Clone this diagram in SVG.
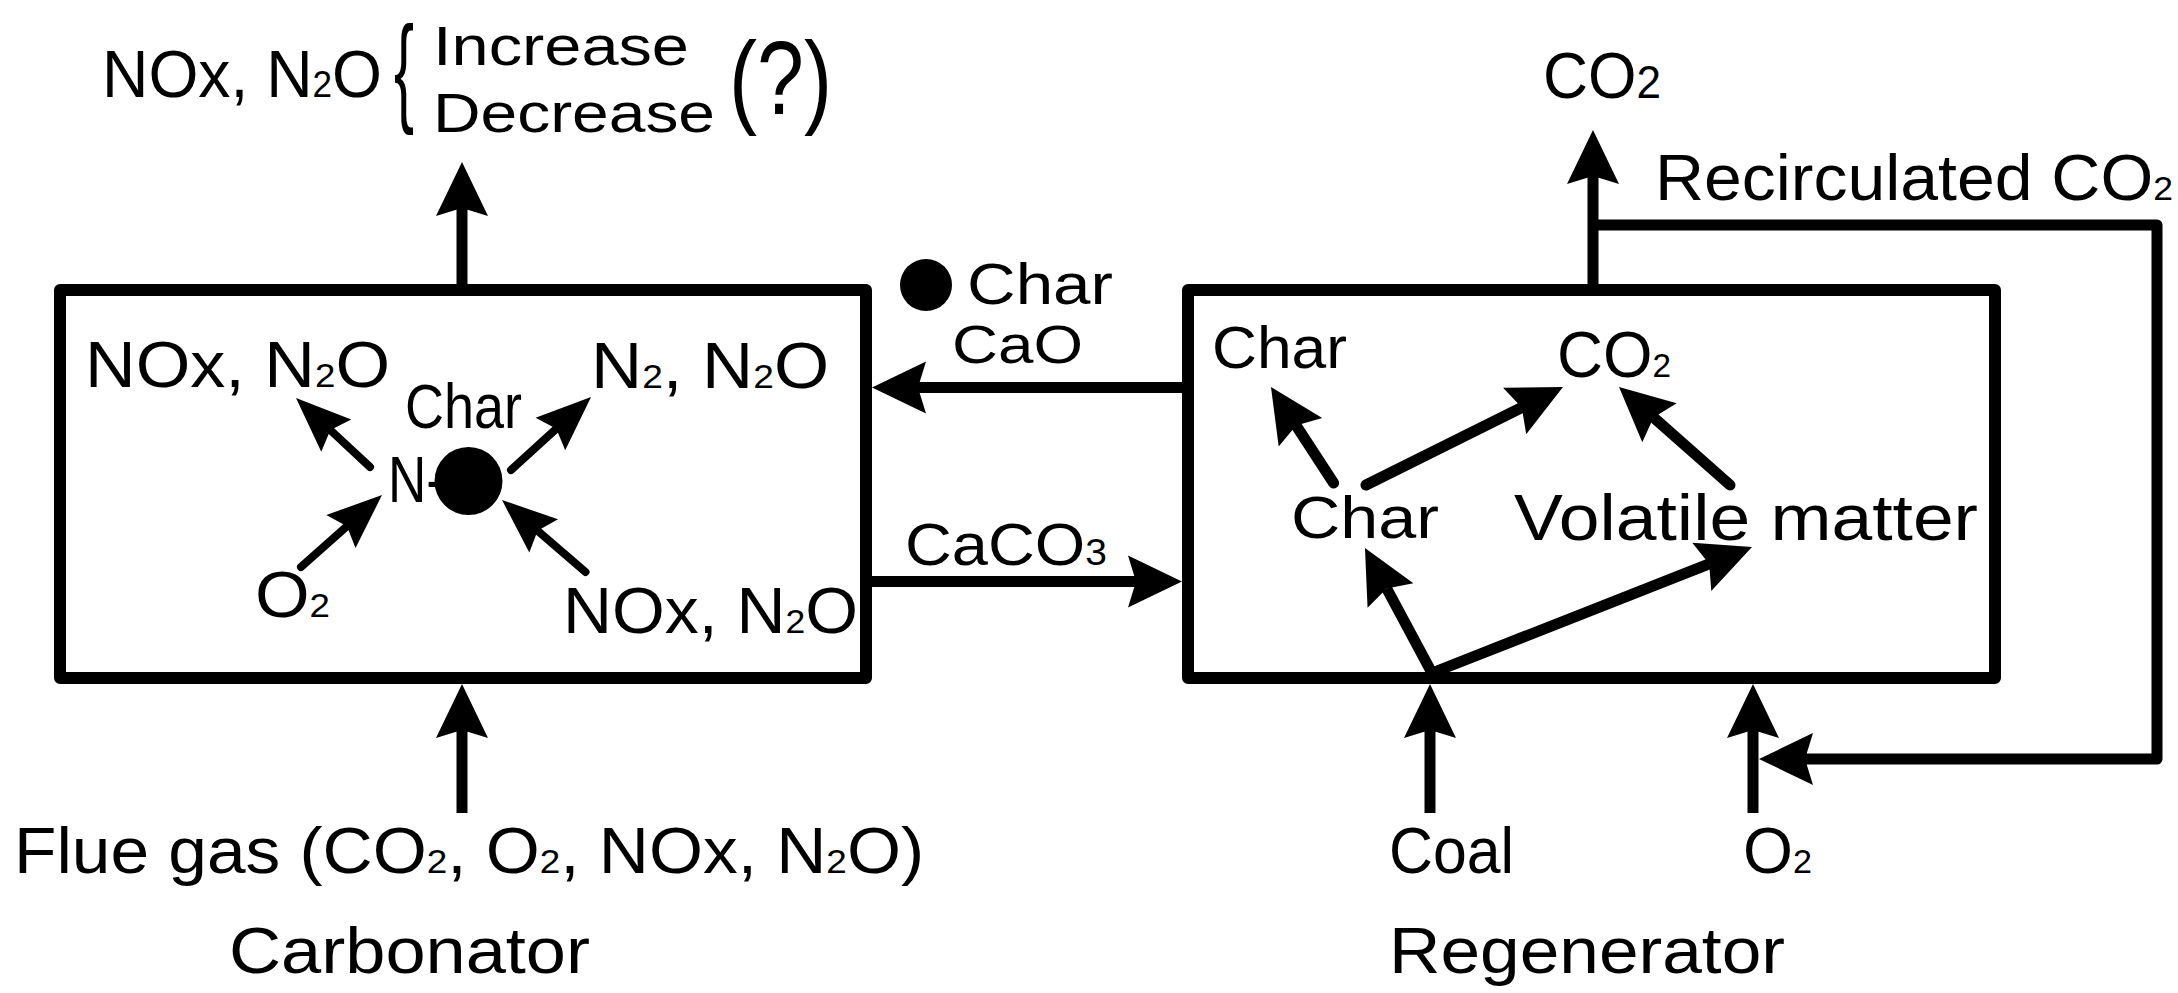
<svg xmlns="http://www.w3.org/2000/svg" width="2178" height="993" viewBox="0 0 2178 993">
<style>
.t{font-family:"Liberation Sans",Arial,sans-serif;fill:#000}
.box{fill:none;stroke:#000;stroke-width:12;stroke-linejoin:round}
.ln{fill:none;stroke:#000;stroke-width:11;stroke-linejoin:round}
.sm{fill:none;stroke:#000;stroke-width:8;stroke-linecap:round}
</style>
<defs>
<marker id="ah" markerUnits="userSpaceOnUse" viewBox="-10 -30 60 60" refX="0" refY="0" markerWidth="60" markerHeight="60" orient="auto" overflow="visible"><path d="M46,0 L-8,-26 L0,0 L-8,26 Z" fill="#000"/></marker>
<marker id="as" markerUnits="userSpaceOnUse" viewBox="-10 -30 60 60" refX="0" refY="0" markerWidth="60" markerHeight="60" orient="auto" overflow="visible"><path d="M47,0 L-8,-22 L0,0 L-8,22 Z" fill="#000"/></marker>
</defs>
<rect width="2178" height="993" fill="#fff"/>

<g id="top-label">
<text class="t" x="102" y="97" font-size="66" textLength="280" lengthAdjust="spacingAndGlyphs">NOx, N<tspan font-size="36">2</tspan>O</text>
<text class="t" font-size="120" transform="translate(394,110) scale(0.5,1)">{</text>
<text class="t" x="433" y="65" font-size="56" textLength="256" lengthAdjust="spacingAndGlyphs">Increase</text>
<text class="t" x="433" y="132" font-size="56" textLength="282" lengthAdjust="spacingAndGlyphs">Decrease</text>
<text class="t" x="729" y="114" font-size="104" textLength="103" lengthAdjust="spacingAndGlyphs">(?)</text>
</g>

<g id="carbonator">
<rect class="box" x="60" y="290" width="806" height="388"/>
<text class="t" x="85" y="387" font-size="65" textLength="305" lengthAdjust="spacingAndGlyphs">NOx, N<tspan font-size="34">2</tspan>O</text>
<text class="t" x="591" y="388" font-size="65" textLength="238" lengthAdjust="spacingAndGlyphs">N<tspan font-size="34">2</tspan>, N<tspan font-size="34">2</tspan>O</text>
<text class="t" x="405" y="428" font-size="63" textLength="117" lengthAdjust="spacingAndGlyphs">Char</text>
<text class="t" x="388" y="502" font-size="65" textLength="56" lengthAdjust="spacingAndGlyphs">N-</text>
<circle cx="468.5" cy="481" r="34" fill="#000"/>
<text class="t" x="255" y="617" font-size="65" textLength="75" lengthAdjust="spacingAndGlyphs">O<tspan font-size="34">2</tspan></text>
<text class="t" x="563" y="633" font-size="65" textLength="295" lengthAdjust="spacingAndGlyphs">NOx, N<tspan font-size="34">2</tspan>O</text>
<text class="t" x="229" y="973" font-size="64" textLength="361" lengthAdjust="spacingAndGlyphs">Carbonator</text>
</g>

<g id="regenerator">
<rect class="box" x="1188" y="290" width="807" height="388"/>
<text class="t" x="1212" y="368" font-size="60" textLength="135" lengthAdjust="spacingAndGlyphs">Char</text>
<text class="t" x="1557" y="377" font-size="65" textLength="114" lengthAdjust="spacingAndGlyphs">CO<tspan font-size="34">2</tspan></text>
<text class="t" x="1291" y="538" font-size="60" textLength="148" lengthAdjust="spacingAndGlyphs">Char</text>
<text class="t" x="1514" y="540" font-size="65" textLength="464" lengthAdjust="spacingAndGlyphs">Volatile matter</text>
<text class="t" x="1389" y="973" font-size="64" textLength="396" lengthAdjust="spacingAndGlyphs">Regenerator</text>
</g>

<g id="stream-labels">
<circle cx="926" cy="285" r="26" fill="#000"/>
<text class="t" x="967" y="304" font-size="58" textLength="146" lengthAdjust="spacingAndGlyphs">Char</text>
<text class="t" x="952" y="363" font-size="54" textLength="131" lengthAdjust="spacingAndGlyphs">CaO</text>
<text class="t" x="905" y="565" font-size="60" textLength="202" lengthAdjust="spacingAndGlyphs">CaCO<tspan font-size="36">3</tspan></text>
<text class="t" x="1543" y="98" font-size="65" textLength="118" lengthAdjust="spacingAndGlyphs">CO<tspan font-size="46">2</tspan></text>
<text class="t" x="1655" y="200" font-size="65" textLength="518" lengthAdjust="spacingAndGlyphs">Recirculated CO<tspan font-size="34">2</tspan></text>
<text class="t" x="14" y="873" font-size="64" textLength="910" lengthAdjust="spacingAndGlyphs">Flue gas (CO<tspan font-size="34">2</tspan>, O<tspan font-size="34">2</tspan>, NOx, N<tspan font-size="34">2</tspan>O)</text>
<text class="t" x="1389" y="873" font-size="64" textLength="125" lengthAdjust="spacingAndGlyphs">Coal</text>
<text class="t" x="1743" y="873" font-size="64" textLength="69" lengthAdjust="spacingAndGlyphs">O<tspan font-size="34">2</tspan></text>
</g>

<g id="connectors">
<line class="ln" x1="462" y1="290" x2="462" y2="208" marker-end="url(#ah)"/>
<line class="ln" x1="462" y1="813" x2="462" y2="730" marker-end="url(#ah)"/>
<line class="ln" x1="1183" y1="387.5" x2="918" y2="387.5" marker-end="url(#ah)"/>
<line class="ln" x1="870" y1="581.5" x2="1136" y2="581.5" marker-end="url(#ah)"/>
<line class="ln" x1="1593" y1="290" x2="1593" y2="176" marker-end="url(#ah)"/>
<path class="ln" d="M1593,225 H2157 V759 H1805" stroke-width="12" marker-end="url(#ah)"/>
<line class="ln" x1="1430" y1="813" x2="1430" y2="730" marker-end="url(#ah)"/>
<line class="ln" x1="1753" y1="813" x2="1753" y2="730" marker-end="url(#ah)"/>
<line class="sm" x1="370" y1="467" x2="330.4" y2="430.1" marker-end="url(#as)"/>
<line class="sm" x1="511" y1="470" x2="556.3" y2="428.7" marker-end="url(#as)"/>
<line class="sm" x1="301" y1="567" x2="346.9" y2="526.2" marker-end="url(#as)"/>
<line class="sm" x1="585.5" y1="572" x2="537.6" y2="530.7" marker-end="url(#as)"/>
<line class="ln" x1="1333.6" y1="483" x2="1296.1" y2="425.5" stroke-linecap="round" marker-end="url(#ah)"/>
<line class="ln" x1="1366" y1="485" x2="1521.8" y2="407.5" stroke-linecap="round" marker-end="url(#ah)"/>
<line class="ln" x1="1730" y1="485" x2="1653.5" y2="417.4" stroke-linecap="round" marker-end="url(#ah)"/>
<line class="ln" x1="1432" y1="673" x2="1386.7" y2="588.5" marker-end="url(#ah)"/>
<line class="ln" x1="1432" y1="673" x2="1709.2" y2="563.9" marker-end="url(#ah)"/>
</g>
</svg>
